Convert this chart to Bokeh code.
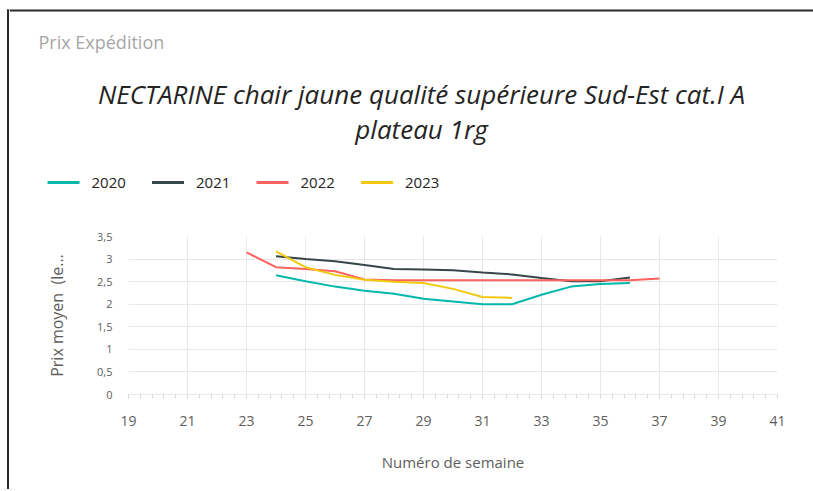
from bokeh.plotting import figure
from bokeh.models import (Range1d, FixedTicker, Label, BoxAnnotation, ColumnDataSource, GridBox)
from bokeh.core.properties import value
from bokeh.embed import file_html
from bokeh.resources import INLINE

# ---- data ----
weeks_2020 = list(range(24, 37))
price_2020 = [2.64, 2.51, 2.39, 2.30, 2.23, 2.12, 2.06, 2.00, 2.00, 2.21, 2.39, 2.45, 2.47]
weeks_2021 = list(range(24, 37))
price_2021 = [3.06, 3.00, 2.95, 2.87, 2.78, 2.77, 2.75, 2.70, 2.66, 2.58, 2.51, 2.51, 2.59]
weeks_2022 = list(range(23, 38))
price_2022 = [3.15, 2.82, 2.78, 2.73, 2.55, 2.53, 2.53, 2.53, 2.53, 2.53, 2.53, 2.53, 2.53, 2.53, 2.57]
weeks_2023 = list(range(24, 33))
price_2023 = [3.17, 2.82, 2.65, 2.54, 2.50, 2.47, 2.34, 2.16, 2.14]

series_names = ["2020", "2021", "2022", "2023"]
series_colors = ["#01B8AA", "#374649", "#FD625E", "#F2C80F"]

x_ticks = list(range(19, 42, 2))
y_ticks = [0, 0.5, 1, 1.5, 2, 2.5, 3, 3.5]
y_tick_labels = ["0", "0,5", "1", "1,5", "2", "2,5", "3", "3,5"]

visual_caption = "Prix Expédition"
title_line1 = "NECTARINE chair jaune qualité supérieure Sud-Est cat.I A"
title_line2 = "plateau 1rg"
x_label = "Numéro de semaine"
y_label = "Prix moyen \u00a0(le..."

FONT = "Open Sans"
GRID = "#E8E8E8"
TXT = "#605E5C"
CARD = "#2B2B2B"

W, H = 813, 489
STRIP = 9
HEAD = 228
FRAME_LEFT, FRAME_RIGHT, FRAME_TOP, FRAME_BOTTOM = 128, 777, 236, 394


def no_align(fig):
    try:
        fig.frame_align = False
    except Exception:
        pass


# ---- left card edge ----
strip = figure(width=STRIP, height=H, output_backend="svg", toolbar_location=None,
               x_range=Range1d(0, STRIP), y_range=Range1d(H, 0),
               min_border=0, title=None)
no_align(strip)
strip.axis.visible = False
strip.grid.visible = False
strip.outline_line_color = None
strip.add_layout(BoxAnnotation(left=6.5, right=8.5, top=9, bottom=H,
                               fill_color=CARD, fill_alpha=1, line_color=None))
strip.add_layout(BoxAnnotation(left=6.5, right=STRIP, top=9, bottom=11,
                               fill_color=CARD, fill_alpha=1, line_color=None))

# ---- header (caption, title, legend) ----
head = figure(width=W - STRIP, height=HEAD, output_backend="svg", toolbar_location=None,
              x_range=Range1d(STRIP, W), y_range=Range1d(HEAD, 0),
              min_border=0, title=None)
no_align(head)
head.axis.visible = False
head.grid.visible = False
head.outline_line_color = None
head.add_layout(BoxAnnotation(left=STRIP, right=W, top=9, bottom=11,
                              fill_color=CARD, fill_alpha=1, line_color=None))

head.add_layout(Label(x=38, y=41, text=visual_caption, text_font=FONT,
                      text_font_size="18px", text_color="#A6A6A6",
                      text_align="left", text_baseline="middle"))
head.add_layout(Label(x=421, y=93, text=title_line1, text_font=FONT,
                      text_font_style="italic", text_font_size="26px", text_color="#252423",
                      text_align="center", text_baseline="middle"))
head.add_layout(Label(x=421, y=128, text=title_line2, text_font=FONT,
                      text_font_style="italic", text_font_size="26px", text_color="#252423",
                      text_align="center", text_baseline="middle"))

# legend (line swatch + label per series)
LEG_X0, LEG_STEP, LEG_Y, SW = 47, 104.5, 182, 32
leg_x = [LEG_X0 + i * LEG_STEP for i in range(len(series_names))]
leg_src = ColumnDataSource(dict(x0=leg_x, x1=[x + SW for x in leg_x],
                                tx=[x + SW + 12 for x in leg_x],
                                y=[LEG_Y] * len(series_names),
                                name=series_names, color=series_colors))
head.segment(x0="x0", y0="y", x1="x1", y1="y", line_color="color", line_width=3, source=leg_src)
head.text(x="tx", y="y", text="name", text_font=value(FONT), text_font_size="15px",
          text_color="#252423", text_baseline="middle", text_align="left", source=leg_src)

# ---- main chart ----
p = figure(width=W - STRIP, height=H - HEAD, output_backend="svg", toolbar_location=None,
           x_range=Range1d(19, 41), y_range=Range1d(0, 3.5),
           min_border_left=FRAME_LEFT - STRIP, min_border_right=W - FRAME_RIGHT,
           min_border_top=FRAME_TOP - HEAD, min_border_bottom=H - FRAME_BOTTOM, title=None)
no_align(p)
p.outline_line_color = None
p.background_fill_color = "white"
p.border_fill_color = "white"

p.xgrid.grid_line_color = GRID
p.ygrid.grid_line_color = GRID

minor = [19 + 0.4 * i for i in range(56)]
p.xaxis.ticker = FixedTicker(ticks=x_ticks, minor_ticks=minor)
p.xaxis.axis_line_color = GRID
p.xaxis.major_tick_line_color = "#D8D8D8"
p.xaxis.minor_tick_line_color = "#D8D8D8"
p.xaxis.major_tick_in = 0
p.xaxis.major_tick_out = 4
p.xaxis.minor_tick_in = 0
p.xaxis.minor_tick_out = 4
p.xaxis.major_label_standoff = 17
p.xaxis.major_label_text_font = FONT
p.xaxis.major_label_text_font_size = "14px"
p.xaxis.major_label_text_color = TXT
p.xaxis.axis_label = x_label
p.xaxis.axis_label_text_font = FONT
p.xaxis.axis_label_text_font_style = "normal"
p.xaxis.axis_label_text_font_size = "15px"
p.xaxis.axis_label_text_color = TXT
p.xaxis.axis_label_standoff = 23

p.yaxis.ticker = FixedTicker(ticks=y_ticks)
p.yaxis.major_label_overrides = {t: l for t, l in zip(y_ticks, y_tick_labels)}
p.yaxis.axis_line_color = None
p.yaxis.major_tick_line_color = None
p.yaxis.minor_tick_line_color = None
p.yaxis.major_label_standoff = 10
p.yaxis.major_label_text_font = FONT
p.yaxis.major_label_text_font_size = "11px"
p.yaxis.major_label_text_color = TXT
p.yaxis.axis_label = y_label
p.yaxis.axis_label_text_font = FONT
p.yaxis.axis_label_text_font_style = "normal"
p.yaxis.axis_label_text_font_size = "16px"
p.yaxis.axis_label_text_color = TXT
p.yaxis.axis_label_standoff = 26

all_x = [weeks_2020, weeks_2021, weeks_2022, weeks_2023]
all_y = [price_2020, price_2021, price_2022, price_2023]
for xs, ys, c in zip(all_x, all_y, series_colors):
    p.line(xs, ys, line_color=c, line_width=2)

layout = GridBox(children=[(strip, 0, 0, 2, 1), (head, 0, 1), (p, 1, 1)], spacing=0)
open("out.html", "w").write(file_html(layout, INLINE))
